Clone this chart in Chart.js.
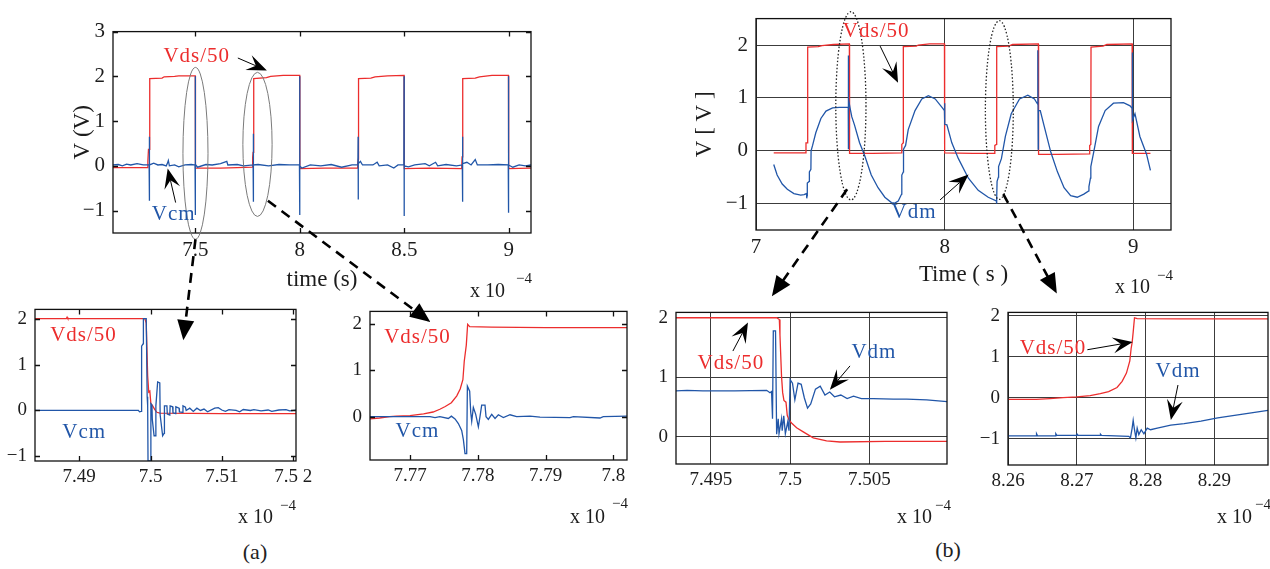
<!DOCTYPE html>
<html>
<head>
<meta charset="utf-8">
<script src="https://cdn.jsdelivr.net/npm/chart.js@4.4.1/dist/chart.umd.min.js"></script>
<style>
  html, body { margin: 0; background: #fff; width: 1270px; height: 569px; overflow: hidden; }
  canvas { position: absolute; }
  .cap { position: absolute; font: 22px "Liberation Serif", serif; color: #222; transform: translate(-50%, -50%); }
</style>
</head>
<body>
<div class="cap" style="left:255px;top:552px">(a)</div>
<div class="cap" style="left:948px;top:550px">(b)</div>
<script>
// ---- data (time in units of 1e-4 s, volts) ----
const vcmMain = [[7.105,0.02],[7.13,0.03],[7.15,0.0],[7.17,0.04],[7.19,0.02],[7.22,0.05],[7.25,0.02],[7.278,0.02],[7.279,0.65],[7.2795,-0.78],[7.28,0.02],[7.30,0.06],[7.32,0.02],[7.34,0.03],[7.36,0.0],[7.365,0.05],[7.37,0.12],[7.375,0.0],[7.40,0.02],[7.42,-0.02],[7.45,0.02],[7.48,0.03],[7.498,0.02],[7.499,2.0],[7.4995,-1.1],[7.5,0.03],[7.51,-0.03],[7.55,0.03],[7.58,0.02],[7.62,0.05],[7.65,0.1],[7.655,0.02],[7.70,0.03],[7.73,0.0],[7.776,0.02],[7.777,0.72],[7.7775,-0.8],[7.778,0.02],[7.80,0.03],[7.85,0.0],[7.90,0.03],[7.95,0.02],[7.998,0.02],[7.999,2.0],[7.9995,-1.1],[8.0,0.0],[8.01,-0.05],[8.05,0.02],[8.1,0.0],[8.15,0.03],[8.2,-0.03],[8.25,0.02],[8.278,0.02],[8.279,0.65],[8.2795,-0.75],[8.28,0.05],[8.29,0.1],[8.30,0.02],[8.35,0.02],[8.37,0.08],[8.38,0.0],[8.42,0.02],[8.45,-0.05],[8.47,0.02],[8.498,0.02],[8.499,2.0],[8.4995,-1.12],[8.5,0.0],[8.52,-0.02],[8.55,0.02],[8.6,0.05],[8.62,0.0],[8.65,0.08],[8.66,0.0],[8.7,0.03],[8.75,0.0],[8.778,0.02],[8.779,0.65],[8.7795,-0.8],[8.78,0.05],[8.8,0.08],[8.82,0.02],[8.84,0.14],[8.85,0.02],[8.9,0.02],[8.95,0.03],[8.998,0.02],[8.999,2.0],[8.9995,-1.05],[9.0,0.02],[9.02,-0.03],[9.05,0.02],[9.08,0.0],[9.107,0.02]];
const vdsMainA = [[7.105,-0.04],[7.27,-0.04],[7.272,0.1],[7.275,0.37],[7.28,0.37],[7.281,1.95],[7.34,1.96],[7.35,1.99],[7.40,2.0],[7.42,2.01],[7.499,2.01],[7.5,-0.05],[7.62,-0.05],[7.70,-0.04],[7.772,-0.03],[7.774,0.2],[7.776,0.3],[7.779,1.95],[7.84,1.97],[7.86,2.0],[7.92,2.02],[7.999,2.02],[8.0,-0.06],[8.12,-0.05],[8.275,-0.05],[8.277,0.05],[8.28,0.15],[8.281,1.95],[8.34,1.96],[8.36,1.99],[8.42,2.01],[8.499,2.02],[8.5,-0.06],[8.62,-0.05],[8.775,-0.06],[8.777,0.2],[8.779,0.3],[8.781,1.95],[8.84,1.96],[8.86,1.99],[8.92,2.02],[8.999,2.02],[9.0,-0.06],[9.107,-0.05]];

const vcmZoom1 = [[7.4838,0],[7.4983,0],[7.49845,-0.03],[7.4987,-0.02],[7.49875,1.4],[7.49895,1.45],[7.499,2.0],[7.4994,2.0],[7.49953,0.3],[7.4996,0.1],[7.49965,-1.1],[7.5,-1.1],[7.50005,0.15],[7.5002,0.12],[7.50025,-0.2],[7.5005,-0.55],[7.5007,-0.55],[7.50075,0.1],[7.501,0.62],[7.5013,0.6],[7.50135,-0.1],[7.5017,-0.55],[7.5019,-0.5],[7.50195,0.1],[7.5023,0.1],[7.50235,-0.08],[7.5027,-0.1],[7.50275,0.1],[7.5031,0.08],[7.50315,-0.05],[7.5035,-0.07],[7.50355,0.08],[7.504,0.05],[7.50405,-0.03],[7.5045,-0.04],[7.50455,0.1],[7.5049,0.07],[7.505,0.0],[7.5055,0.05],[7.506,-0.02],[7.5065,0.05],[7.507,0.0],[7.5075,0.03],[7.508,-0.03],[7.509,0.05],[7.5095,0.06],[7.51,0.01],[7.5105,-0.02],[7.511,0.02],[7.512,0.0],[7.5125,-0.03],[7.513,0.02],[7.514,0.0],[7.5145,0.02],[7.5155,-0.01],[7.5165,0.01],[7.517,-0.02],[7.518,0.01],[7.519,0.02],[7.5195,-0.01],[7.5205,0.01]];
const vdsZoom1 = [[7.4838,2.0],[7.4882,2.0],[7.4883,2.03],[7.4884,2.0],[7.4992,2.0],[7.4994,1.9],[7.4996,0.75],[7.49975,0.4],[7.4999,0.42],[7.50005,0.15],[7.5003,0.1],[7.5006,0.02],[7.5009,-0.04],[7.5013,-0.06],[7.51,-0.07],[7.5205,-0.07]];

const vcmZoom2 = [[7.7641,0],[7.77295,0],[7.77369,-0.02],[7.7744,0],[7.77565,-0.04],[7.7761,0.01],[7.77664,-0.05],[7.77713,-0.15],[7.77762,-0.3],[7.77787,-0.5],[7.77811,-0.8],[7.77836,-0.8],[7.77846,0.66],[7.7788,0.55],[7.77895,0.1],[7.7791,-0.1],[7.77934,0.2],[7.77969,0.05],[7.78008,-0.22],[7.78032,0.0],[7.78057,0.25],[7.78106,0.25],[7.78121,0.0],[7.78155,-0.06],[7.78205,0.05],[7.78254,-0.04],[7.78303,0.04],[7.78377,-0.02],[7.78475,0.04],[7.78573,0.0],[7.7877,0.01],[7.78917,-0.01],[7.7936,-0.02],[7.7941,0.0],[7.79802,-0.03],[7.7985,0.0],[7.802,0.01]];
const vdsZoom2 = [[7.7641,-0.05],[7.7655,-0.03],[7.767,0.0],[7.768,0.01],[7.77,0.02],[7.772,0.06],[7.7734,0.1],[7.7744,0.16],[7.7752,0.22],[7.7761,0.3],[7.7769,0.45],[7.7774,0.6],[7.7778,0.8],[7.778,1.2],[7.7783,1.55],[7.7785,2.0],[7.7788,1.95],[7.782,1.94],[7.79,1.93],[7.802,1.93]];

const vdmMain = [[7.094,-0.26],[7.112,-0.46],[7.139,-0.63],[7.166,-0.73],[7.201,-0.81],[7.237,-0.84],[7.255,-0.83],[7.268,-0.81],[7.269,-0.9],[7.271,-0.85],[7.272,-0.61],[7.282,-0.58],[7.283,-0.4],[7.291,-0.35],[7.292,0.0],[7.3,0.1],[7.317,0.34],[7.344,0.61],[7.371,0.75],[7.406,0.81],[7.442,0.82],[7.489,0.82],[7.4895,1.8],[7.49,0.03],[7.4905,0.98],[7.499,0.8],[7.508,0.64],[7.522,0.49],[7.549,0.15],[7.576,-0.09],[7.611,-0.46],[7.647,-0.7],[7.683,-0.88],[7.718,-0.98],[7.736,-0.99],[7.754,-0.95],[7.772,-0.82],[7.773,-0.46],[7.781,-0.4],[7.782,0.03],[7.793,0.1],[7.807,0.4],[7.843,0.76],[7.879,0.98],[7.914,1.04],[7.95,0.98],[7.986,0.82],[7.999,0.76],[8.0,0.9],[8.001,0.5],[8.012,0.49],[8.038,0.15],[8.073,-0.15],[8.126,-0.52],[8.178,-0.75],[8.231,-0.88],[8.274,-0.95],[8.275,-1.0],[8.277,-0.9],[8.278,-0.58],[8.285,-0.5],[8.286,-0.3],[8.301,-0.15],[8.322,0.27],[8.353,0.7],[8.397,0.98],[8.441,1.05],[8.476,0.98],[8.493,0.88],[8.494,1.9],[8.496,0.03],[8.497,0.76],[8.507,0.76],[8.528,0.46],[8.563,-0.03],[8.598,-0.4],[8.633,-0.7],[8.668,-0.85],[8.703,-0.88],[8.738,-0.82],[8.764,-0.76],[8.765,-0.68],[8.773,-0.52],[8.775,-0.3],[8.79,-0.03],[8.816,0.46],[8.851,0.76],[8.895,0.9],[8.948,0.91],[8.983,0.85],[8.994,0.8],[8.995,1.86],[8.996,0.58],[9.009,0.7],[9.035,0.27],[9.07,-0.06],[9.091,-0.37]];
const vdsMainB = [[7.094,-0.04],[7.264,-0.04],[7.265,0.15],[7.273,0.15],[7.274,1.96],[7.33,1.97],[7.35,1.99],[7.41,2.01],[7.495,2.02],[7.496,-0.05],[7.62,-0.05],[7.772,-0.04],[7.773,0.12],[7.78,0.15],[7.781,1.97],[7.85,1.98],[7.86,2.0],[7.92,2.02],[7.999,2.02],[8.0,-0.04],[8.15,-0.05],[8.265,-0.05],[8.266,0.1],[8.275,0.12],[8.276,1.97],[8.34,1.98],[8.36,2.01],[8.497,2.02],[8.498,-0.07],[8.6,-0.07],[8.768,-0.06],[8.769,0.1],[8.775,0.12],[8.776,1.96],[8.84,1.98],[8.86,2.01],[8.994,2.02],[8.995,-0.05],[9.091,-0.05]];

const vdmZoom1 = [[7.49277,0.77],[7.4935,0.78],[7.4945,0.77],[7.4965,0.77],[7.49852,0.78],[7.49873,0.74],[7.49883,0.76],[7.49889,0.3],[7.49894,1.78],[7.49908,1.78],[7.49915,0.04],[7.49925,0.3],[7.4993,0.05],[7.49946,0.3],[7.4995,0.1],[7.4996,0.35],[7.4997,0.05],[7.49985,0.25],[7.49993,0.1],[7.5,0.96],[7.50015,0.9],[7.5003,0.62],[7.5005,0.9],[7.5007,0.88],[7.5009,0.65],[7.5011,0.48],[7.5013,0.55],[7.5016,0.8],[7.5019,0.85],[7.5022,0.7],[7.5025,0.75],[7.5028,0.67],[7.5032,0.7],[7.5036,0.64],[7.504,0.68],[7.5045,0.64],[7.50525,0.64],[7.50651,0.63],[7.50736,0.63],[7.50862,0.62],[7.5099,0.59]];
const vdsZoom1b = [[7.49277,2.0],[7.4985,2.0],[7.49915,2.0],[7.49932,1.97],[7.49936,1.71],[7.49946,1.01],[7.49953,0.74],[7.49961,0.61],[7.49974,0.58],[7.49982,0.36],[7.49993,0.28],[7.50009,0.23],[7.50041,0.15],[7.50083,0.08],[7.50146,-0.02],[7.5023,-0.07],[7.50315,-0.09],[7.506,-0.08],[7.5099,-0.08]];

const vdmZoom2 = [[8.26,-0.93],[8.2641,-0.93],[8.26415,-0.88],[8.2643,-0.93],[8.2669,-0.93],[8.26695,-0.88],[8.2671,-0.92],[8.27,-0.92],[8.27005,-0.89],[8.2702,-0.92],[8.2734,-0.92],[8.27345,-0.89],[8.2736,-0.92],[8.27756,-0.94],[8.2778,-0.98],[8.27805,-0.74],[8.2782,-0.55],[8.27839,-0.78],[8.27859,-0.98],[8.27878,-0.74],[8.27902,-0.9],[8.27937,-0.78],[8.27976,-0.88],[8.28024,-0.74],[8.28073,-0.78],[8.28171,-0.74],[8.28366,-0.67],[8.28561,-0.63],[8.28805,-0.57],[8.29049,-0.49],[8.29293,-0.43],[8.29537,-0.37],[8.2978,-0.31]];
const vdsZoom2b = [[8.26,-0.04],[8.2641,-0.04],[8.2661,-0.02],[8.268,0.0],[8.27,0.02],[8.27195,0.05],[8.27342,0.1],[8.27463,0.15],[8.27585,0.25],[8.27659,0.4],[8.27722,0.6],[8.27771,0.9],[8.2779,1.2],[8.27805,1.35],[8.2782,1.6],[8.27839,1.95],[8.27878,1.93],[8.285,1.92],[8.2978,1.92]];

// tick values and labels
const ticksA_x = [7.5, 8, 8.5, 9], labelsA_x = ["7.5", "8", "8.5", "9"];
const ticksA_y = [-1, 0, 1, 2, 3], labelsA_y = ["\u22121", "0", "1", "2", "3"];
const ticksA1_x = [7.49, 7.5, 7.51, 7.52], labelsA1_x = ["7.49", "7.5", "7.51", "7.5 2"];
const ticksA1_y = [-1, 0, 1, 2], labelsA1_y = ["\u22121", "0", "1", "2"];
const ticksA2_x = [7.77, 7.78, 7.79, 7.8], labelsA2_x = ["7.77", "7.78", "7.79", "7.8"];
const ticksA2_y = [0, 1, 2], labelsA2_y = ["0", "1", "2"];
const ticksB_x = [7, 8, 9], labelsB_x = ["7", "8", "9"];
const ticksB_y = [-1, 0, 1, 2], labelsB_y = ["\u22121", "0", "1", "2"];
const ticksB1_x = [7.495, 7.5, 7.505], labelsB1_x = ["7.495", "7.5", "7.505"];
const ticksB1_y = [0, 1, 2], labelsB1_y = ["0", "1", "2"];
const ticksB2_x = [8.26, 8.27, 8.28, 8.29], labelsB2_x = ["8.26", "8.27", "8.28", "8.29"];
const ticksB2_y = [-1, 0, 1, 2], labelsB2_y = ["\u22121", "0", "1", "2"];

// ---- styling ----
const FONT = '"Liberation Serif", "DejaVu Serif", serif';
const RED = "#ec2d2d";
const BLUE = "#2156a8";
const INK = "#1c1c1c";

const panels = {};

// draws the closed frame and matlab-style inward ticks
const framePlugin = {
  id: "frame",
  afterDraw(chart, args, opts) {
    const { ctx, chartArea: a, scales } = chart;
    ctx.save();
    ctx.strokeStyle = "#111";
    ctx.lineWidth = 1.3;
    if (opts.inner) {
      ctx.beginPath();
      scales.x.ticks.forEach((t) => {
        const p = Math.round(scales.x.getPixelForValue(t.value)) + 0.5;
        ctx.moveTo(p, a.bottom); ctx.lineTo(p, a.bottom - opts.inner);
        ctx.moveTo(p, a.top); ctx.lineTo(p, a.top + opts.inner);
      });
      scales.y.ticks.forEach((t) => {
        const p = Math.round(scales.y.getPixelForValue(t.value)) + 0.5;
        ctx.moveTo(a.left, p); ctx.lineTo(a.left + opts.inner, p);
        ctx.moveTo(a.right, p); ctx.lineTo(a.right - opts.inner, p);
      });
      ctx.stroke();
    }
    ctx.strokeRect(a.left, a.top, a.right - a.left, a.bottom - a.top);
    ctx.restore();
  },
};

const makePanel = (name, o) => {
  const padL = 2, padT = 14, padR = 30, padB = 2;
  const left = o.box.l - o.yWidth - padL;
  const top = o.box.t - padT;
  const canvas = document.createElement("canvas");
  canvas.width = o.box.r - o.box.l + o.yWidth + padL + padR;
  canvas.height = o.box.b - o.box.t + o.xHeight + padT + padB;
  canvas.style.left = left + "px";
  canvas.style.top = top + "px";
  document.body.appendChild(canvas);

  const tickFont = { family: FONT, size: o.tickSize, lineHeight: 1.2 };
  const titleFont = { family: FONT, size: 23, lineHeight: 1.2 };
  const gridOpts = { display: !!o.grid, drawTicks: false, color: "#3c3c3c", lineWidth: 1 };

  const chart = new Chart(canvas.getContext("2d"), {
    type: "line",
    data: {
      datasets: [
        { data: o.blue.map(([x, y]) => ({ x, y })), borderColor: BLUE, borderWidth: 1.3 },
        { data: o.red.map(([x, y]) => ({ x, y })), borderColor: RED, borderWidth: 1.3 },
      ],
    },
    options: {
      responsive: false,
      animation: false,
      events: [],
      layout: { padding: { left: padL, top: padT, right: padR, bottom: padB } },
      elements: { point: { radius: 0 }, line: { tension: 0 } },
      plugins: { legend: { display: false }, tooltip: { enabled: false }, frame: { inner: o.grid ? 0 : 5 } },
      scales: {
        x: {
          type: "linear",
          min: o.xMin, max: o.xMax,
          afterBuildTicks: (s) => { s.ticks = o.xTicks.map((v) => ({ value: v })); },
          afterFit: (s) => { s.height = o.xHeight; },
          ticks: { callback: (v, i) => o.xLabels[i], font: tickFont, color: INK, padding: 5, maxRotation: 0, autoSkip: false },
          grid: gridOpts,
          border: { display: false },
          title: o.xTitle ? { display: true, text: o.xTitle, font: titleFont, color: INK, padding: 0 } : { display: false },
        },
        y: {
          type: "linear",
          min: o.yMin, max: o.yMax,
          afterBuildTicks: (s) => { s.ticks = o.yTicks.map((v) => ({ value: v })); },
          afterFit: (s) => { s.width = o.yWidth; },
          ticks: { callback: (v, i) => o.yLabels[i], font: tickFont, color: INK, padding: 8 },
          grid: gridOpts,
          border: { display: false },
          title: o.yTitle ? { display: true, text: o.yTitle, font: titleFont, color: INK, padding: 0 } : { display: false },
        },
      },
    },
    plugins: [framePlugin],
  });
  panels[name] = { chart, left, top };
};

makePanel("A", {
  box: { l: 113, t: 25, r: 531, b: 233 }, yWidth: 44, xHeight: 61, tickSize: 21,
  xMin: 7.105, xMax: 9.107, yMin: -1.5, yMax: 3,
  xTicks: ticksA_x, xLabels: labelsA_x, yTicks: ticksA_y, yLabels: labelsA_y,
  xTitle: "time (s)", yTitle: "V (V)", blue: vcmMain, red: vdsMainA,
});
makePanel("a1", {
  box: { l: 35, t: 304, r: 296, b: 461 }, yWidth: 34, xHeight: 30, tickSize: 19,
  xMin: 7.4838, xMax: 7.5204, yMin: -1.1, yMax: 2.2,
  xTicks: ticksA1_x, xLabels: labelsA1_x, yTicks: ticksA1_y, yLabels: labelsA1_y,
  blue: vcmZoom1, red: vdsZoom1,
});
makePanel("a2", {
  box: { l: 370, t: 306, r: 627, b: 460 }, yWidth: 40, xHeight: 30, tickSize: 19,
  xMin: 7.7641, xMax: 7.802, yMin: -0.94, yMax: 2.28,
  xTicks: ticksA2_x, xLabels: labelsA2_x, yTicks: ticksA2_y, yLabels: labelsA2_y,
  blue: vcmZoom2, red: vdsZoom2,
});
makePanel("B", {
  box: { l: 756, t: 12, r: 1171, b: 230 }, yWidth: 65, xHeight: 59, tickSize: 21, grid: true,
  xMin: 7, xMax: 9.2, yMin: -1.5, yMax: 2.5,
  xTicks: ticksB_x, xLabels: labelsB_x, yTicks: ticksB_y, yLabels: labelsB_y,
  xTitle: "Time ( s )", yTitle: "V [ V ]", blue: vdmMain, red: vdsMainB,
});
makePanel("b1", {
  box: { l: 676, t: 307, r: 947, b: 464 }, yWidth: 40, xHeight: 30, tickSize: 19, grid: true,
  xMin: 7.4928, xMax: 7.5099, yMin: -0.46, yMax: 2.09,
  xTicks: ticksB1_x, xLabels: labelsB1_x, yTicks: ticksB1_y, yLabels: labelsB1_y,
  blue: vdmZoom1, red: vdsZoom1b,
});
makePanel("b2", {
  box: { l: 1008, t: 307, r: 1268, b: 465 }, yWidth: 40, xHeight: 30, tickSize: 19, grid: true,
  xMin: 8.26, xMax: 8.2978, yMin: -1.64, yMax: 2.08,
  xTicks: ticksB2_x, xLabels: labelsB2_x, yTicks: ticksB2_y, yLabels: labelsB2_y,
  blue: vdmZoom2, red: vdsZoom2b,
});

// ---- annotations, anchored in each panel's data units ----
const notes = [
  { panel: "A", text: "Vds/50", x: 7.506, y: 2.44, color: RED, size: 21 },
  { panel: "A", text: "Vcm", x: 7.396, y: -1.08, color: BLUE, size: 21 },
  { panel: "a1", text: "Vds/50", x: 7.4906, y: 1.63, color: RED, size: 21 },
  { panel: "a1", text: "Vcm", x: 7.4907, y: -0.47, color: BLUE, size: 21 },
  { panel: "a2", text: "Vds/50", x: 7.7711, y: 1.72, color: RED, size: 21 },
  { panel: "a2", text: "Vcm", x: 7.7711, y: -0.33, color: BLUE, size: 21 },
  { panel: "B", text: "Vds/50", x: 7.637, y: 2.25, color: RED, size: 21 },
  { panel: "B", text: "Vdm", x: 7.838, y: -1.16, color: BLUE, size: 21 },
  { panel: "b1", text: "Vds/50", x: 7.49626, y: 1.23, color: RED, size: 21 },
  { panel: "b1", text: "Vdm", x: 7.50529, y: 1.41, color: BLUE, size: 21 },
  { panel: "b2", text: "Vds/50", x: 8.26654, y: 1.2, color: RED, size: 21 },
  { panel: "b2", text: "Vdm", x: 8.28471, y: 0.63, color: BLUE, size: 21 },
];
const pointers = [
  { panel: "A", from: [7.703, 2.41], to: [7.842, 2.13] },
  { panel: "A", from: [7.405, -0.82], to: [7.367, -0.06] },
  { panel: "B", from: [7.658, 1.98], to: [7.753, 1.285] },
  { panel: "B", from: [7.976, -0.93], to: [8.127, -0.45] },
  { panel: "b1", from: [7.49639, 1.44], to: [7.49734, 1.92] },
  { panel: "b1", from: [7.50378, 1.19], to: [7.50251, 0.79] },
  { panel: "b2", from: [8.27154, 1.17], to: [8.27813, 1.36] },
  { panel: "b2", from: [8.28471, 0.31], to: [8.28368, -0.54] },
];
const rings = [
  { panel: "A", x: 7.5, y: 0.28, rx: 0.06, ry: 1.92, dotted: false },
  { panel: "A", x: 7.797, y: 0.48, rx: 0.07, ry: 1.61, dotted: false },
  { panel: "B", x: 7.503, y: 0.85, rx: 0.08, ry: 1.78, dotted: true },
  { panel: "B", x: 8.29, y: 0.77, rx: 0.074, ry: 1.69, dotted: true },
];
const links = [
  { from: ["A", 7.5, -1.64], to: ["a1", 7.5046, 1.53] },
  { from: ["A", 7.847, -0.78], to: ["a2", 7.773, 2.05] },
  { from: ["B", 7.483, -0.73], to: ["b1", 7.49885, 2.36] },
  { from: ["B", 8.311, -0.82], to: ["b2", 8.2671, 2.54] },
];
// exponent marker offsets from each frame's bottom-right corner
const exponents = [
  { panel: "A", dx: -61, dy: 64, sx: -17, sy: 50 },
  { panel: "B", dx: -56, dy: 63, sx: -16, sy: 50 },
  { panel: "a1", dx: -58, dy: 62, sx: -18, sy: 49 },
  { panel: "a2", dx: -57, dy: 63, sx: -17, sy: 48 },
  { panel: "b1", dx: -50, dy: 59, sx: -14, sy: 46 },
  { panel: "b2", dx: -51, dy: 58, sx: -15, sy: 44 },
];

const toPage = (name, x, y) => {
  const p = panels[name];
  return [p.left + p.chart.scales.x.getPixelForValue(x), p.top + p.chart.scales.y.getPixelForValue(y)];
};

const overlay = document.createElement("canvas");
overlay.width = 1270;
overlay.height = 569;
overlay.style.left = "0px";
overlay.style.top = "0px";
document.body.appendChild(overlay);
const ctx = overlay.getContext("2d");

const dart = (x1, y1, x2, y2, len, half) => {
  const a = Math.atan2(y2 - y1, x2 - x1);
  const c = Math.cos(a), s = Math.sin(a);
  ctx.beginPath();
  ctx.moveTo(x1, y1);
  ctx.lineTo(x2 - c * len * 0.6, y2 - s * len * 0.6);
  ctx.stroke();
  ctx.beginPath();
  ctx.moveTo(x2, y2);
  ctx.lineTo(x2 - c * len - s * half, y2 - s * len + c * half);
  ctx.lineTo(x2 - c * len * 0.6, y2 - s * len * 0.6);
  ctx.lineTo(x2 - c * len + s * half, y2 - s * len - c * half);
  ctx.closePath();
  ctx.fill();
};

rings.forEach((r) => {
  const sx = panels[r.panel].chart.scales.x, sy = panels[r.panel].chart.scales.y;
  const [cx, cy] = toPage(r.panel, r.x, r.y);
  const rx = Math.abs(sx.getPixelForValue(r.x + r.rx) - sx.getPixelForValue(r.x));
  const ry = Math.abs(sy.getPixelForValue(r.y + r.ry) - sy.getPixelForValue(r.y));
  ctx.save();
  ctx.strokeStyle = r.dotted ? "#222" : "#7a7a7a";
  ctx.lineWidth = r.dotted ? 1.3 : 1;
  ctx.setLineDash(r.dotted ? [1.5, 2] : []);
  ctx.beginPath();
  ctx.ellipse(cx, cy, rx, ry, 0, 0, Math.PI * 2);
  ctx.stroke();
  ctx.restore();
});

ctx.fillStyle = "#000";
ctx.strokeStyle = "#000";
ctx.lineWidth = 1;
pointers.forEach((p) => {
  const [x1, y1] = toPage(p.panel, p.from[0], p.from[1]);
  const [x2, y2] = toPage(p.panel, p.to[0], p.to[1]);
  dart(x1, y1, x2, y2, 20, 8);
});

links.forEach((l) => {
  const [x1, y1] = toPage(l.from[0], l.from[1], l.from[2]);
  const [x2, y2] = toPage(l.to[0], l.to[1], l.to[2]);
  const a = Math.atan2(y2 - y1, x2 - x1);
  const c = Math.cos(a), s = Math.sin(a);
  ctx.save();
  ctx.lineWidth = 2.6;
  ctx.setLineDash([10, 7]);
  ctx.beginPath();
  ctx.moveTo(x1, y1);
  ctx.lineTo(x2 - c * 16, y2 - s * 16);
  ctx.stroke();
  ctx.restore();
  ctx.beginPath();
  ctx.moveTo(x2, y2);
  ctx.lineTo(x2 - c * 20 - s * 8.5, y2 - s * 20 + c * 8.5);
  ctx.lineTo(x2 - c * 20 + s * 8.5, y2 - s * 20 - c * 8.5);
  ctx.closePath();
  ctx.fill();
});

if ("letterSpacing" in ctx) ctx.letterSpacing = "1px";
ctx.textAlign = "center";
ctx.textBaseline = "middle";
notes.forEach((n) => {
  const [x, y] = toPage(n.panel, n.x, n.y);
  ctx.font = `${n.size}px ${FONT}`;
  ctx.fillStyle = n.color;
  ctx.fillText(n.text, x, y);
});

if ("letterSpacing" in ctx) ctx.letterSpacing = "0px";
ctx.textAlign = "left";
ctx.textBaseline = "alphabetic";
ctx.fillStyle = INK;
exponents.forEach((e) => {
  const area = panels[e.panel].chart.chartArea;
  const p = panels[e.panel];
  const rx = p.left + area.right, by = p.top + area.bottom;
  ctx.font = `20px ${FONT}`;
  ctx.fillText("x 10", rx + e.dx, by + e.dy);
  ctx.font = `15px ${FONT}`;
  ctx.fillText("\u22124", rx + e.sx + 2, by + e.sy);
});
</script>
</body>
</html>
